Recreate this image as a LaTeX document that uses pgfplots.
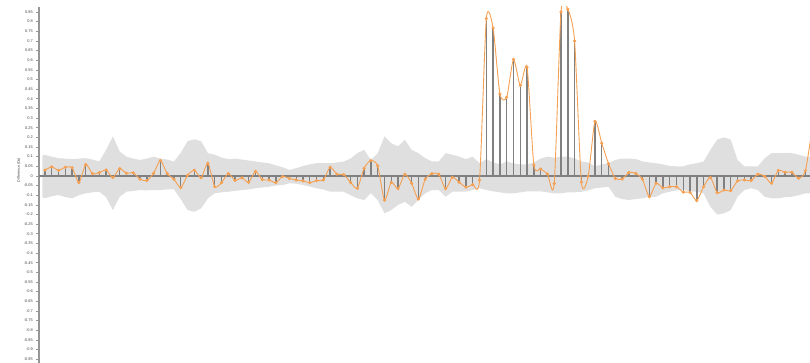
\documentclass[border=0pt]{standalone}
\usepackage{fontspec}
\setmainfont{Liberation Sans}
\usepackage{pgfplots}
\usepgfplotslibrary{fillbetween}
\pgfplotsset{compat=1.18}
\usepackage{pgfplotstable}
\definecolor{stemgray}{RGB}{128,128,128}
\definecolor{bandgray}{RGB}{223,223,223}
\definecolor{lineorange}{RGB}{245,160,82}
\definecolor{axgray}{RGB}{150,150,150}

\pgfplotstableread{
x y
0 0.030
1 0.047
2 0.029
3 0.045
4 0.042
5 -0.034
6 0.059
7 0.012
8 0.017
9 0.031
10 -0.008
11 0.038
12 0.014
13 0.016
14 -0.017
15 -0.024
16 0.014
17 0.080
18 0.012
19 -0.017
20 -0.061
21 0.003
22 0.030
23 -0.009
24 0.066
25 -0.056
26 -0.035
27 0.012
28 -0.023
29 -0.010
30 -0.033
31 0.024
32 -0.019
33 -0.021
34 -0.035
35 -0.003
36 -0.013
37 -0.021
38 -0.026
39 -0.035
40 -0.024
41 -0.021
42 0.045
43 0.009
44 0.007
45 -0.033
46 -0.064
47 0.040
48 0.080
49 0.052
50 -0.125
51 -0.033
52 -0.066
53 0.009
54 -0.038
55 -0.120
56 -0.017
57 0.012
58 0.009
59 -0.066
60 -0.007
61 -0.033
62 -0.058
63 -0.045
64 -0.022
65 0.816
66 0.767
67 0.425
68 0.408
69 0.604
70 0.469
71 0.564
72 0.057
73 0.036
74 0.010
75 -0.040
76 0.851
77 0.865
78 0.700
79 -0.032
80 -0.002
81 0.283
82 0.170
83 0.064
84 -0.013
85 -0.016
86 0.018
87 0.013
88 -0.018
89 -0.108
90 -0.038
91 -0.062
92 -0.056
93 -0.056
94 -0.084
95 -0.085
96 -0.128
97 -0.056
98 -0.008
99 -0.087
100 -0.073
101 -0.076
102 -0.026
103 -0.021
104 -0.024
105 0.009
106 -0.002
107 -0.038
108 0.028
109 0.019
110 0.019
111 -0.012
112 0.028
113 0.250
}\diffdata

\pgfplotstableread{
x u l
-0.4 0.105 -0.110
0 0.109 -0.116
1 0.100 -0.105
2 0.092 -0.099
3 0.090 -0.110
4 0.087 -0.116
5 0.090 -0.100
6 0.092 -0.090
7 0.085 -0.085
8 0.075 -0.082
9 0.135 -0.110
10 0.205 -0.177
11 0.127 -0.108
12 0.100 -0.082
13 0.090 -0.078
14 0.083 -0.073
15 0.090 -0.075
16 0.100 -0.073
17 0.090 -0.073
18 0.085 -0.070
19 0.075 -0.070
20 0.120 -0.120
21 0.180 -0.177
22 0.190 -0.186
23 0.180 -0.168
24 0.118 -0.116
25 0.110 -0.090
26 0.095 -0.085
27 0.087 -0.082
28 0.090 -0.078
29 0.085 -0.073
30 0.080 -0.070
31 0.075 -0.064
32 0.070 -0.060
33 0.066 -0.056
34 0.055 -0.050
35 0.045 -0.047
36 0.031 -0.038
37 0.040 -0.040
38 0.052 -0.047
39 0.060 -0.055
40 0.066 -0.064
41 0.066 -0.070
42 0.066 -0.082
43 0.070 -0.082
44 0.075 -0.082
45 0.090 -0.100
46 0.118 -0.116
47 0.135 -0.125
48 0.083 -0.090
49 0.118 -0.125
50 0.205 -0.194
51 0.170 -0.177
52 0.153 -0.150
53 0.188 -0.134
54 0.135 -0.160
55 0.118 -0.125
56 0.092 -0.090
57 0.075 -0.073
58 0.075 -0.073
59 0.118 -0.108
60 0.110 -0.082
61 0.100 -0.082
62 0.087 -0.082
63 0.100 -0.073
64 0.066 -0.064
65 0.087 -0.073
66 0.070 -0.080
67 0.060 -0.085
68 0.075 -0.090
69 0.065 -0.090
70 0.060 -0.085
71 0.060 -0.080
72 0.070 -0.080
73 0.090 -0.080
74 0.100 -0.085
75 0.095 -0.090
76 0.100 -0.090
77 0.100 -0.085
78 0.090 -0.085
79 0.075 -0.082
80 0.070 -0.075
81 0.050 -0.064
82 0.060 -0.060
83 0.066 -0.056
84 0.083 -0.108
85 0.090 -0.120
86 0.090 -0.125
87 0.088 -0.120
88 0.075 -0.116
89 0.070 -0.108
90 0.066 -0.108
91 0.060 -0.090
92 0.052 -0.082
93 0.050 -0.075
94 0.050 -0.073
95 0.060 -0.080
96 0.066 -0.082
97 0.075 -0.090
98 0.135 -0.160
99 0.188 -0.200
100 0.200 -0.194
101 0.188 -0.177
102 0.083 -0.108
103 0.050 -0.073
104 0.050 -0.064
105 0.050 -0.073
106 0.092 -0.108
107 0.118 -0.116
108 0.118 -0.116
109 0.120 -0.110
110 0.118 -0.108
111 0.110 -0.100
112 0.100 -0.090
113 0.100 -0.090
}\banddata

\begin{document}
\begin{tikzpicture}
\begin{axis}[
  at={(39bp,0bp)}, anchor=south west,
  scale only axis, width=771bp, height=356bp,
  xmin=-0.88, xmax=112.67,
  ymin=-0.97, ymax=0.876,
  axis x line=none,
  axis y line*=left,
  y axis line style={axgray, line width=1.5bp, -},
  ytick={-0.95,-0.9,-0.85,-0.8,-0.75,-0.7,-0.65,-0.6,-0.55,-0.5,-0.45,-0.4,-0.35,-0.3,-0.25,-0.2,-0.15,-0.1,-0.05,0,0.05,0.1,0.15,0.2,0.25,0.3,0.35,0.4,0.45,0.5,0.55,0.6,0.65,0.7,0.75,0.8,0.85},
  tick align=outside,
  major tick length=3bp,
  ytick style={axgray, line width=0.6bp},
  yticklabel style={font=\fontsize{3.9}{4.2}\selectfont, text=black!75, xshift=0.3bp,
    /pgf/number format/fixed, /pgf/number format/precision=2,
    /pgf/number format/assume math mode=true},
  ylabel={Difference (Da)},
  every axis y label/.style={at={(axis description cs:-0.026,0.542)}, rotate=90, anchor=center,
    font=\fontsize{3.6}{4}\selectfont, text=black!75},
]
\addplot[name path=upper, draw=none, forget plot] table[x=x, y=u] {\banddata};
\addplot[name path=lower, draw=none, forget plot] table[x=x, y=l] {\banddata};
\addplot[bandgray, forget plot] fill between[of=upper and lower];
\addplot[ycomb, stemgray, line width=1.4bp, mark=none] table[x=x, y=y] {\diffdata};
\addplot[stemgray, line width=1.8bp, mark=none] coordinates {(-0.88,0) (112.67,0)};
\addplot[lineorange, line width=0.9bp, smooth, tension=0.4, mark=*, mark size=1.1bp, mark options={fill=lineorange, draw=lineorange}] table[x=x, y=y] {\diffdata};
\end{axis}
\pgfresetboundingbox
\useasboundingbox (0,0) rectangle (810bp,363bp);
\end{tikzpicture}
\end{document}
